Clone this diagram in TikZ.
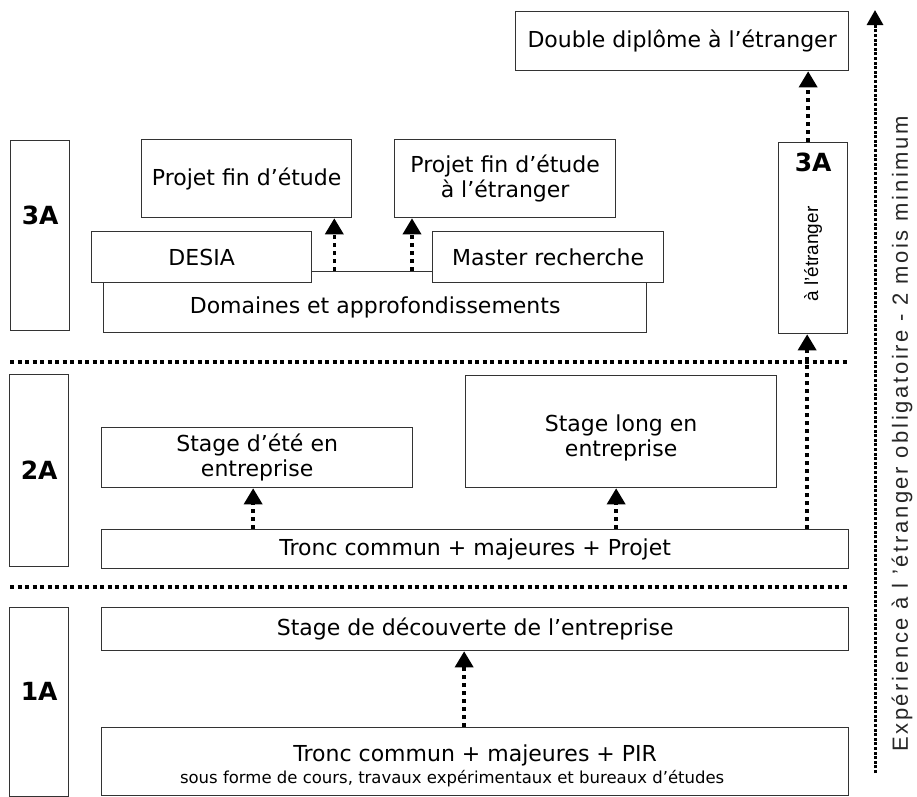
\documentclass[tikz,border=0pt]{standalone}
\usepackage{fontspec}
\setmainfont{DejaVu Sans}
\newfontfamily\narrowfont{Liberation Sans}
\newfontfamily\spacedfont[LetterSpace=12]{Liberation Sans}
\usepackage{tikz}
\usetikzlibrary{positioning,arrows.meta,calc}

\tikzset{
  boxtext/.style={font=\fontsize{22}{25}\selectfont},
  box/.style={draw=black!80, line width=1.3pt, fill=white, inner sep=2pt, align=center, anchor=north west, boxtext},
  yearbox/.style={draw=black!80, line width=1.3pt, anchor=north west, minimum width=59},
  yearlabel/.style={font=\fontsize{25}{28}\selectfont\bfseries},
  darrow/.style={line width=3.5pt, dash pattern=on 4pt off 4pt, -{Triangle[width=18pt,length=16pt]}},
  longarrow/.style={line width=3pt, dash pattern=on 3pt off 1.6pt, -{Triangle[width=16pt,length=15pt]}},
  sepline/.style={line width=3.5pt, dash pattern=on 4pt off 3.5pt},
}

\begin{document}
\begin{tikzpicture}[x=1pt,y=-1pt]
    \useasboundingbox (0,0) rectangle (917,796);

    \node[yearbox, minimum height=190, label={[yearlabel, yshift=20]center:3A}] (y3) at (10,140) {};
    \node[yearbox, minimum height=192, label={[yearlabel]center:2A}] (y2) at (9,374) {};
    \node[yearbox, minimum height=189, label={[yearlabel, yshift=11]center:1A}] (y1) at (9,607) {};

    \draw[sepline] (10,362) -- (848,362);
    \draw[sepline] (10,587) -- (848,587);

    \node[box, minimum width=543, minimum height=61, label={[boxtext, yshift=-5.5]center:Domaines et approfondissements}] (dom) at (103,271) {};
    \node[box, minimum width=220, minimum height=51] (desia) at (91,231) {DESIA};
    \node[box, minimum width=231, minimum height=51] (master) at (432,231) {Master recherche};
    \node[box, minimum width=210, minimum height=78] (pfe) at (141,139) {Projet fin d’étude};
    \node[box, minimum width=221, minimum height=78] (pfeabr) at (394,139) {Projet fin d’étude\\à l’étranger};

    \node[box, minimum width=311, minimum height=60] (stete) at (101,427) {Stage d’été en\\entreprise};
    \node[box, minimum width=311, minimum height=112, label={[boxtext, align=center, yshift=-6]center:Stage long en\\entreprise}] (stlong) at (465,375) {};
    \node[box, minimum width=747, minimum height=39] (tc2) at (101,529) {Tronc commun + majeures + Projet};

    \node[box, minimum width=747, minimum height=43] (sdec) at (101,607) {Stage de découverte de l’entreprise};
    \node[box, minimum width=747, minimum height=68,
          label={[boxtext, align=center, yshift=-4]center:Tronc commun + majeures + PIR\\[-3pt]{\fontsize{16.5}{18}\selectfont sous forme de cours, travaux expérimentaux et bureaux d’études\hspace*{46pt}}}] (tc1) at (101,727) {};

    \node[box, minimum width=333, minimum height=59] (dd) at (515,11) {Double diplôme à l’étranger};
    \node[box, minimum width=69, minimum height=191,
          label={[yearlabel, anchor=center, yshift=-20]north:3A},
          label={[font=\narrowfont\fontsize{19}{21}\selectfont, yshift=-16, rotate=90]center:à l’étranger}] (abr) at (778,142) {};

    \draw[darrow] ($(pfe.south east |- dom.north)+(-18,0)$) -- ($(pfe.south east)+(-18,0)$);
    \draw[darrow] ($(pfeabr.south west |- dom.north)+(18,0)$) -- ($(pfeabr.south west)+(18,0)$);
    \draw[darrow] ($(stete.south |- tc2.north)+(-4,0)$) -- ($(stete.south)+(-4,0)$);
    \draw[darrow] ($(stlong.south |- tc2.north)+(-5,0)$) -- ($(stlong.south)+(-5,0)$);
    \draw[darrow] ($(abr.south |- tc2.north)+(-6,0)$) -- ($(abr.south)+(-6,0)$);
    \draw[darrow] ($(abr.north)+(-5,0)$) -- ($(abr.north |- dd.south)+(-5,0)$);
    \draw[darrow] ($(tc1.north)+(-11,0)$) -- ($(tc1.north |- sdec.south)+(-11,0)$);

    \coordinate (expbot) at (875,773);
    \coordinate (exptop) at (875,10);
    \draw[longarrow] (expbot) -- (exptop);
    \node[font=\spacedfont\fontsize{22}{24}\selectfont, text=black!85, rotate=90] (exptext) at (902,434) {Expérience à l ’étranger obligatoire - 2 mois minimum};
\end{tikzpicture}
\end{document}
